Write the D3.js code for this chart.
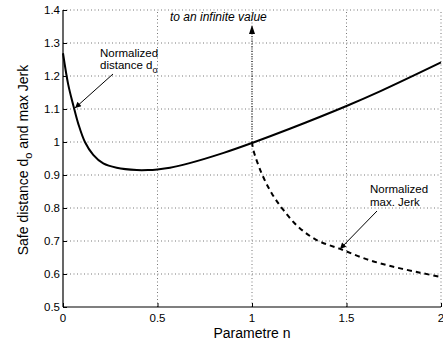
<!DOCTYPE html>
<html>
<head>
<meta charset="utf-8">
<script src="https://cdn.jsdelivr.net/npm/d3@7"></script>
<style>
  body { margin: 0; background: #fff; }
  text { font-family: "Liberation Sans", Arial, Helvetica, sans-serif; }
</style>
</head>
<body>
<svg id="chart" width="443" height="348"></svg>
<script>
// normalized safe distance d_o (solid)
var distN = [0, 0.028, 0.055, 0.081, 0.116, 0.16, 0.213, 0.284, 0.39, 0.45, 0.5, 0.566, 0.67, 0.85, 1.0, 1.2, 1.5, 1.68, 2.0];
var distV = [1.269, 1.173, 1.11, 1.055, 1.0, 0.961, 0.935, 0.922, 0.915, 0.915, 0.917, 0.922, 0.936, 0.967, 0.997, 1.04, 1.109, 1.154, 1.241];

// normalized max. jerk (dashed), only defined for n >= 1
var jerkN = [1.0, 1.007, 1.051, 1.104, 1.166, 1.245, 1.342, 1.466, 1.605, 1.748, 1.889, 2.0];
var jerkV = [1.0, 0.976, 0.905, 0.845, 0.794, 0.743, 0.703, 0.676, 0.645, 0.622, 0.604, 0.591];

var xTicks = [0, 0.5, 1, 1.5, 2];
var yTicks = [0.5, 0.6, 0.7, 0.8, 0.9, 1, 1.1, 1.2, 1.3, 1.4];

var svg = d3.select("#chart");

var x = d3.scaleLinear().domain([0, 2]).range([63, 441]);
var y = d3.scaleLinear().domain([0.5, 1.4]).range([307, 10]);

// dotted grid
svg.append("g").selectAll("line")
  .data(xTicks.filter(function(d) { return d > 0; }))
  .enter().append("line")
  .attr("x1", function(d) { return x(d); }).attr("x2", function(d) { return x(d); })
  .attr("y1", y(0.5)).attr("y2", y(1.4))
  .attr("stroke", "#777").attr("stroke-width", 1).attr("stroke-dasharray", "1,2.5");

svg.append("g").selectAll("line")
  .data(yTicks.filter(function(d) { return d > 0.5; }))
  .enter().append("line")
  .attr("x1", x(0)).attr("x2", x(2))
  .attr("y1", function(d) { return y(d); }).attr("y2", function(d) { return y(d); })
  .attr("stroke", "#777").attr("stroke-width", 1).attr("stroke-dasharray", "1,2.5");

// axes with inward ticks
var xAxis = d3.axisTop(x).tickValues(xTicks).tickSize(4).tickFormat("");
var yAxis = d3.axisRight(y).tickValues(yTicks).tickSize(4).tickFormat("");

svg.append("g").attr("transform", "translate(0," + y(0.5) + ")").call(xAxis)
  .call(function(g) { g.select(".domain").attr("d", "M" + x(0) + ",0H" + x(2)); });
svg.append("g").attr("transform", "translate(" + x(0) + ",0)").call(yAxis)
  .call(function(g) { g.select(".domain").attr("d", "M0," + y(0.5) + "V" + y(1.4)); });

svg.selectAll(".domain").attr("stroke", "#000").attr("stroke-width", 1.2);

// tick labels
svg.append("g").selectAll("text")
  .data(xTicks).enter().append("text")
  .attr("x", function(d) { return x(d); })
  .attr("y", 322)
  .attr("text-anchor", "middle")
  .attr("font-size", "11.5px")
  .text(function(d) { return d; });

svg.append("g").selectAll("text")
  .data(yTicks).enter().append("text")
  .attr("x", 60)
  .attr("y", function(d) { return y(d) + 4; })
  .attr("text-anchor", "end")
  .attr("font-size", "11.5px")
  .text(function(d) { return d; });

// axis labels
svg.append("text")
  .attr("x", 252).attr("y", 338)
  .attr("text-anchor", "middle")
  .attr("font-size", "14px")
  .text("Parametre n");

var yl = svg.append("text")
  .attr("transform", "translate(28,160) rotate(-90)")
  .attr("text-anchor", "middle")
  .attr("font-size", "14px");
yl.append("tspan").text("Safe distance d");
yl.append("tspan").attr("font-size", "11px").attr("dy", 4).text("o");
yl.append("tspan").attr("dy", -4).text(" and max Jerk");

// curves
var line = d3.line()
  .x(function(d) { return x(d[0]); })
  .y(function(d) { return y(d[1]); })
  .curve(d3.curveCatmullRom.alpha(0.5));

svg.append("path")
  .datum(d3.zip(distN, distV))
  .attr("fill", "none").attr("stroke", "#000").attr("stroke-width", 2)
  .attr("d", line);

svg.append("path")
  .datum(d3.zip(jerkN, jerkV))
  .attr("fill", "none").attr("stroke", "#000").attr("stroke-width", 2)
  .attr("stroke-dasharray", "5,4")
  .attr("d", line);

// arrowhead marker
var defs = svg.append("defs");
defs.append("marker")
  .attr("id", "head")
  .attr("viewBox", "0 0 10 10")
  .attr("refX", 10).attr("refY", 5)
  .attr("markerWidth", 8).attr("markerHeight", 6)
  .attr("markerUnits", "userSpaceOnUse")
  .attr("orient", "auto")
  .append("path").attr("d", "M0,0L10,5L0,10z").attr("fill", "#000");

// annotation: distance
svg.append("text").attr("x", 100).attr("y", 57).attr("font-size", "11.5px").text("Normalized");
var dt = svg.append("text").attr("x", 100).attr("y", 69).attr("font-size", "11.5px");
dt.append("tspan").text("distance d");
dt.append("tspan").attr("font-size", "9px").attr("dy", 4).text("o");
svg.append("line")
  .attr("x1", 113).attr("y1", 74).attr("x2", 75).attr("y2", 108)
  .attr("stroke", "#000").attr("stroke-width", 1)
  .attr("marker-end", "url(#head)");

// annotation: jerk
svg.append("text").attr("x", 370).attr("y", 193).attr("font-size", "11.5px").text("Normalized");
svg.append("text").attr("x", 370).attr("y", 205.5).attr("font-size", "11.5px").text("max. Jerk");
svg.append("line")
  .attr("x1", 377).attr("y1", 211).attr("x2", 340).attr("y2", 249)
  .attr("stroke", "#000").attr("stroke-width", 1)
  .attr("marker-end", "url(#head)");

// annotation: infinite
svg.append("text").attr("x", 170).attr("y", 21)
  .attr("font-size", "12px").attr("font-style", "italic")
  .text("to an infinite value");
svg.append("line")
  .attr("x1", x(1)).attr("y1", y(1)).attr("x2", x(1)).attr("y2", 33)
  .attr("stroke", "#000").attr("stroke-width", 1).attr("stroke-dasharray", "1,1.5");
svg.append("path")
  .attr("d", "M" + (x(1) - 3) + ",34L" + x(1) + ",25L" + (x(1) + 3) + ",34z")
  .attr("fill", "#000");
</script>
</body>
</html>
